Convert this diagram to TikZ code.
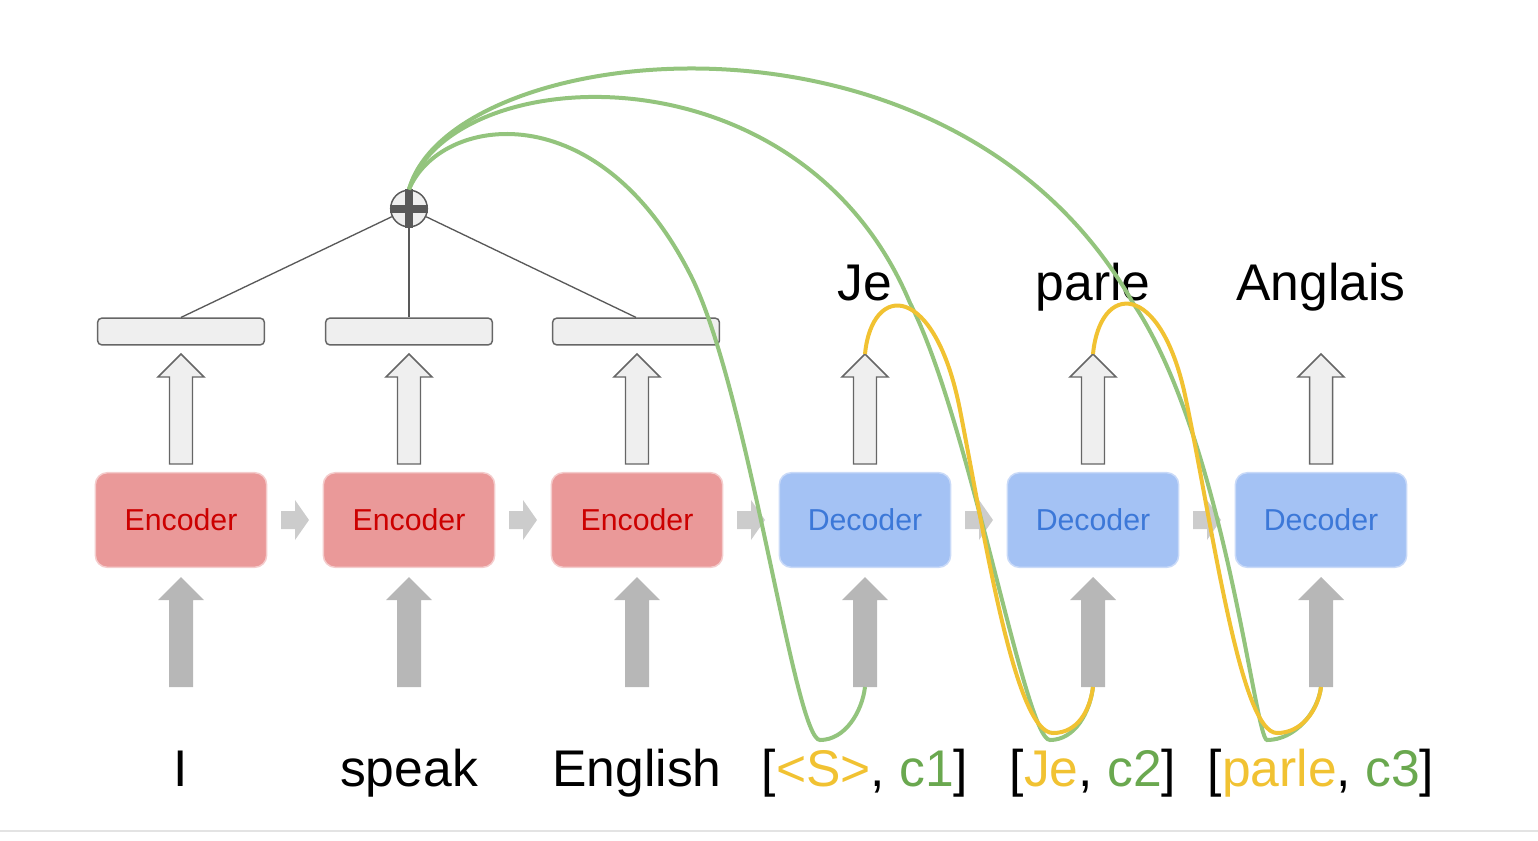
\documentclass[tikz,border=0pt]{standalone}
\usepackage{fontspec}
\setmainfont{Liberation Sans}
\definecolor{encfill}{RGB}{234,153,153}
\definecolor{encline}{RGB}{244,204,204}
\definecolor{enctext}{RGB}{204,0,0}
\definecolor{decfill}{RGB}{164,194,244}
\definecolor{decline}{RGB}{201,218,248}
\definecolor{dectext}{RGB}{60,120,216}
\definecolor{boxgray}{RGB}{239,239,239}
\definecolor{edgegray}{RGB}{102,102,102}
\definecolor{plusgray}{RGB}{89,89,89}
\definecolor{stepgray}{RGB}{204,204,204}
\definecolor{ingray}{RGB}{183,183,183}
\definecolor{attgreen}{RGB}{147,196,125}
\definecolor{txtgreen}{RGB}{106,168,79}
\definecolor{attyellow}{RGB}{241,194,50}
\definecolor{framegray}{RGB}{227,227,227}

\tikzset{every picture/.style={line width=0.75pt},
  encbox/.style={draw=encline, fill=encfill, text=enctext, line width=1.1pt, rounded corners=9pt,
    minimum width=128.5pt, minimum height=71pt, font=\fontsize{22.7}{24}\selectfont},
  decbox/.style={encbox, draw=decline, fill=decfill, text=dectext},
  hidbox/.style={draw=edgegray, fill=boxgray, line width=1.1pt, rounded corners=3pt,
    minimum width=125pt, minimum height=20pt, inner sep=0pt},
  plusnode/.style={circle, draw=plusgray, fill=boxgray, line width=1.1pt, minimum size=27.5pt, inner sep=0pt},
  word/.style={anchor=base, inner sep=0pt, font=\fontsize{38.7}{40}\selectfont},
  attcurve/.style={draw=attgreen, line width=3pt},
  prevcurve/.style={draw=attyellow, line width=3pt},
}

\begin{document}
\begin{tikzpicture}[x=0.75pt,y=0.75pt,yscale=-1,xscale=1]
\useasboundingbox (0,0) rectangle (1538,840);

%Encoder / decoder cells
\node[encbox] (enc1) at (181,520) {Encoder};
\node[encbox] (enc2) at (409,520) {Encoder};
\node[encbox] (enc3) at (637,520) {Encoder};
\node[decbox] (dec1) at (865,520) {Decoder};
\node[decbox] (dec2) at (1093,520) {Decoder};
\node[decbox] (dec3) at (1321,520) {Decoder};

%Small arrows between cells
\foreach \x in {295,523,751,979,1207}
  \fill[stepgray, shift={(\x,520)}] (-14,-9) -- (0,-9) -- (0,-20) -- (14,0) -- (0,20) -- (0,9) -- (-14,9) -- cycle;

%Input arrows
\foreach \x in {181,409,637,865,1093,1321}
  \fill[ingray, shift={(\x,687)}] (-12,0) -- (-12,-87) -- (-23,-87) -- (0,-110) -- (23,-87) -- (12,-87) -- (12,0) -- cycle;

%Output arrows
\foreach \x in {181,409,637,865,1093,1321}
  \draw[draw=edgegray, fill=boxgray, line width=1.1pt, shift={(\x,464)}] (-11.5,0) -- (-11.5,-87) -- (-23,-87) -- (0,-110) -- (23,-87) -- (11.5,-87) -- (11.5,0) -- cycle;

%Hidden states
\node[hidbox] (h1) at (181,331.5) {};
\node[hidbox] (h2) at (409,331.5) {};
\node[hidbox] (h3) at (636,331.5) {};

%Sum of hidden states
\node[plusnode] (plus) at (409,208.5) {};
\draw[plusgray, line width=6pt] (plus.north) -- (plus.south) (plus.west) -- (plus.east);
\draw[plusgray, line width=1pt] (plus) -- (h1.north);
\draw[plusgray, line width=1pt] (plus) -- (h2.north);
\draw[plusgray, line width=1pt] (plus) -- (h3.north);

%Words
\node[word] (w1) at (181,786) {I};
\node[word] (w2) at (409,786) {speak};
\node[word] (w3) at (637,786) {English};
\node[word] (w4) at (865,786) {[\textcolor{attyellow}{<S>}, \textcolor{txtgreen}{c1}]};
\node[word] (w5) at (1093,786) {[\textcolor{attyellow}{Je}, \textcolor{txtgreen}{c2}]};
\node[word] (w6) at (1321,786) {[\textcolor{attyellow}{parle}, \textcolor{txtgreen}{c3}]};
\node[word] (o1) at (865,300) {Je};
\node[word] (o2) at (1093,300) {parle};
\node[word] (o3) at (1321,300) {Anglais};

%Curve ends
\coordinate (in1) at (865,687);
\coordinate (in2) at (1093,687);
\coordinate (in3) at (1321,687);
\coordinate (out1) at (865,354);
\coordinate (out2) at (1093,354);

%Context vectors
\draw[attcurve] (plus.north) .. controls (440,115) and (600,90) .. (693,280) .. controls (750,400) and (795,740) .. (820,740) .. controls (845,740) and (862,712) .. (in1);
\draw[attcurve] (plus.north) .. controls (450,60) and (800,40) .. (910,303) .. controls (970,420) and (1025,740) .. (1050,740) .. controls (1075,740) and (1090,712) .. (in2);
\draw[attcurve] (plus.north) .. controls (450,40) and (950,-20) .. (1133,303) .. controls (1225,440) and (1255,740) .. (1267,740) .. controls (1295,740) and (1318,712) .. (in3);

%Previous outputs
\draw[prevcurve] (out1) .. controls (872,282) and (935,282) .. (960,410) .. controls (985,538) and (1015,733) .. (1053,733) .. controls (1078,733) and (1090,710) .. (in2);
\draw[prevcurve] (out2) .. controls (1100,282) and (1160,280) .. (1185,395) .. controls (1212,522) and (1240,733) .. (1277,733) .. controls (1302,733) and (1318,710) .. (in3);

%Frame edge
\draw[framegray, line width=1.5pt] (0,831) -- (1538,831);

\end{tikzpicture}
\end{document}
